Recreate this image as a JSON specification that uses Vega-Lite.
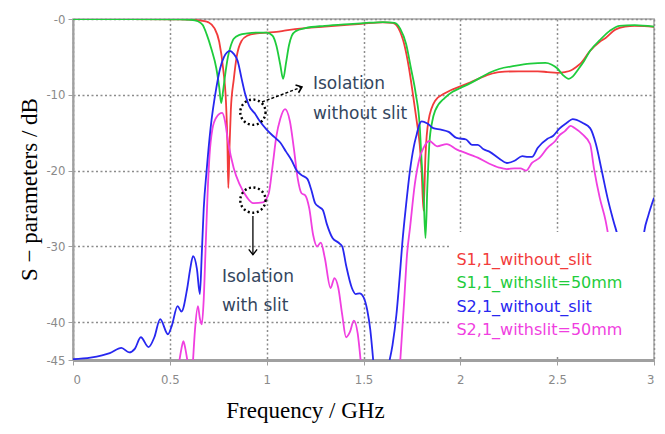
{
  "$schema": "https://vega.github.io/schema/vega-lite/v6.json",
  "width": 581,
  "height": 341,
  "autosize": {"type": "none"},
  "padding": {"left": 73, "top": 19, "right": 11, "bottom": 74},
  "background": "white",
  "config": {
    "view": {"stroke": "#a8a8a8", "strokeWidth": 1.5},
    "axis": {
      "gridColor": "#8c8c8c", "gridDash": [2, 2.5], "gridWidth": 1.5,
      "domainColor": "#a0a0a0", "tickColor": "#a0a0a0", "tickSize": 5,
      "labelColor": "#8a8a8a", "labelFont": "DejaVu Sans Condensed, DejaVu Sans", "labelFontSize": 13,
      "titleFont": "Liberation Serif", "titleFontWeight": "normal", "titleColor": "black", "titleFontSize": 23
    }
  },
  "datasets": {
    "curves": [
      {"s":"r","seg":"r1","f":0,"v":0},{"s":"r","seg":"r1","f":0.3,"v":0},{"s":"r","seg":"r1","f":0.55,"v":-0.05},{"s":"r","seg":"r1","f":0.62,"v":-0.1},{"s":"r","seg":"r1","f":0.67,"v":-0.25},{"s":"r","seg":"r1","f":0.7,"v":-0.45},{"s":"r","seg":"r1","f":0.73,"v":-1.2},{"s":"r","seg":"r1","f":0.755,"v":-3},{"s":"r","seg":"r1","f":0.775,"v":-6.5},{"s":"r","seg":"r1","f":0.79,"v":-11},{"s":"r","seg":"r1","f":0.797,"v":-16},{"s":"r","seg":"r1","f":0.802,"v":-22.3},{"s":"r","seg":"r1","f":0.808,"v":-17},{"s":"r","seg":"r1","f":0.815,"v":-12},{"s":"r","seg":"r1","f":0.83,"v":-8},{"s":"r","seg":"r1","f":0.845,"v":-5},{"s":"r","seg":"r1","f":0.87,"v":-2.9},{"s":"r","seg":"r1","f":0.9,"v":-2.2},{"s":"r","seg":"r1","f":0.95,"v":-1.9},{"s":"r","seg":"r1","f":1.0,"v":-1.8},{"s":"r","seg":"r1","f":1.05,"v":-1.7},{"s":"r","seg":"r1","f":1.1,"v":-1.5},{"s":"r","seg":"r1","f":1.2,"v":-1.2},{"s":"r","seg":"r1","f":1.3,"v":-1.0},{"s":"r","seg":"r1","f":1.4,"v":-0.8},{"s":"r","seg":"r1","f":1.5,"v":-0.6},{"s":"r","seg":"r1","f":1.6,"v":-0.45},{"s":"r","seg":"r1","f":1.65,"v":-0.5},{"s":"r","seg":"r1","f":1.68,"v":-1.2},{"s":"r","seg":"r1","f":1.71,"v":-3.3},{"s":"r","seg":"r1","f":1.735,"v":-6.5},{"s":"r","seg":"r1","f":1.755,"v":-9.9},{"s":"r","seg":"r1","f":1.775,"v":-13.5},{"s":"r","seg":"r1","f":1.79,"v":-16.5},{"s":"r","seg":"r1","f":1.8,"v":-20},{"s":"r","seg":"r1","f":1.81,"v":-25.3},{"s":"r","seg":"r1","f":1.82,"v":-18},{"s":"r","seg":"r1","f":1.835,"v":-13.5},{"s":"r","seg":"r1","f":1.87,"v":-10.8},{"s":"r","seg":"r1","f":1.92,"v":-9.8},{"s":"r","seg":"r1","f":1.95,"v":-9.4},{"s":"r","seg":"r1","f":2.0,"v":-8.9},{"s":"r","seg":"r1","f":2.05,"v":-8.4},{"s":"r","seg":"r1","f":2.1,"v":-7.8},{"s":"r","seg":"r1","f":2.15,"v":-7.3},{"s":"r","seg":"r1","f":2.2,"v":-7.0},{"s":"r","seg":"r1","f":2.3,"v":-6.9},{"s":"r","seg":"r1","f":2.4,"v":-6.9},{"s":"r","seg":"r1","f":2.45,"v":-7.0},{"s":"r","seg":"r1","f":2.5,"v":-7.1},{"s":"r","seg":"r1","f":2.54,"v":-7.0},{"s":"r","seg":"r1","f":2.57,"v":-6.8},{"s":"r","seg":"r1","f":2.6,"v":-6.3},{"s":"r","seg":"r1","f":2.62,"v":-5.9},{"s":"r","seg":"r1","f":2.67,"v":-4.2},{"s":"r","seg":"r1","f":2.72,"v":-3.0},{"s":"r","seg":"r1","f":2.75,"v":-2.5},{"s":"r","seg":"r1","f":2.8,"v":-1.4},{"s":"r","seg":"r1","f":2.85,"v":-1.0},{"s":"r","seg":"r1","f":2.9,"v":-0.9},{"s":"r","seg":"r1","f":2.95,"v":-0.95},{"s":"r","seg":"r1","f":3.0,"v":-1.05},

      {"s":"g","seg":"g1","f":0,"v":0},{"s":"g","seg":"g1","f":0.3,"v":0},{"s":"g","seg":"g1","f":0.55,"v":-0.05},{"s":"g","seg":"g1","f":0.61,"v":-0.1},{"s":"g","seg":"g1","f":0.645,"v":-0.3},{"s":"g","seg":"g1","f":0.67,"v":-0.8},{"s":"g","seg":"g1","f":0.69,"v":-2},{"s":"g","seg":"g1","f":0.715,"v":-4},{"s":"g","seg":"g1","f":0.74,"v":-6.5},{"s":"g","seg":"g1","f":0.755,"v":-9},{"s":"g","seg":"g1","f":0.765,"v":-11.1},{"s":"g","seg":"g1","f":0.775,"v":-9.5},{"s":"g","seg":"g1","f":0.785,"v":-7.5},{"s":"g","seg":"g1","f":0.8,"v":-5},{"s":"g","seg":"g1","f":0.815,"v":-3.5},{"s":"g","seg":"g1","f":0.83,"v":-2.6},{"s":"g","seg":"g1","f":0.86,"v":-2.1},{"s":"g","seg":"g1","f":0.9,"v":-1.9},{"s":"g","seg":"g1","f":0.95,"v":-1.8},{"s":"g","seg":"g1","f":1.0,"v":-1.8},{"s":"g","seg":"g1","f":1.03,"v":-2.2},{"s":"g","seg":"g1","f":1.05,"v":-3.5},{"s":"g","seg":"g1","f":1.07,"v":-6},{"s":"g","seg":"g1","f":1.085,"v":-7.9},{"s":"g","seg":"g1","f":1.1,"v":-5.8},{"s":"g","seg":"g1","f":1.115,"v":-3.5},{"s":"g","seg":"g1","f":1.13,"v":-2.2},{"s":"g","seg":"g1","f":1.15,"v":-1.6},{"s":"g","seg":"g1","f":1.2,"v":-1.2},{"s":"g","seg":"g1","f":1.3,"v":-0.9},{"s":"g","seg":"g1","f":1.4,"v":-0.7},{"s":"g","seg":"g1","f":1.5,"v":-0.55},{"s":"g","seg":"g1","f":1.6,"v":-0.4},{"s":"g","seg":"g1","f":1.66,"v":-0.5},{"s":"g","seg":"g1","f":1.69,"v":-1.3},{"s":"g","seg":"g1","f":1.72,"v":-3.3},{"s":"g","seg":"g1","f":1.745,"v":-6.5},{"s":"g","seg":"g1","f":1.77,"v":-9.9},{"s":"g","seg":"g1","f":1.79,"v":-14},{"s":"g","seg":"g1","f":1.8,"v":-18.7},{"s":"g","seg":"g1","f":1.81,"v":-23},{"s":"g","seg":"g1","f":1.82,"v":-28.9},{"s":"g","seg":"g1","f":1.83,"v":-22},{"s":"g","seg":"g1","f":1.84,"v":-16.5},{"s":"g","seg":"g1","f":1.855,"v":-13.5},{"s":"g","seg":"g1","f":1.87,"v":-12.1},{"s":"g","seg":"g1","f":1.92,"v":-10.4},{"s":"g","seg":"g1","f":1.96,"v":-9.6},{"s":"g","seg":"g1","f":2.0,"v":-9.1},{"s":"g","seg":"g1","f":2.05,"v":-8.5},{"s":"g","seg":"g1","f":2.1,"v":-7.8},{"s":"g","seg":"g1","f":2.15,"v":-7.1},{"s":"g","seg":"g1","f":2.2,"v":-6.6},{"s":"g","seg":"g1","f":2.28,"v":-6.2},{"s":"g","seg":"g1","f":2.36,"v":-5.9},{"s":"g","seg":"g1","f":2.44,"v":-5.8},{"s":"g","seg":"g1","f":2.47,"v":-6.0},{"s":"g","seg":"g1","f":2.5,"v":-6.5},{"s":"g","seg":"g1","f":2.53,"v":-7.4},{"s":"g","seg":"g1","f":2.56,"v":-7.9},{"s":"g","seg":"g1","f":2.58,"v":-7.6},{"s":"g","seg":"g1","f":2.61,"v":-6.6},{"s":"g","seg":"g1","f":2.64,"v":-5.5},{"s":"g","seg":"g1","f":2.67,"v":-4.2},{"s":"g","seg":"g1","f":2.72,"v":-2.8},{"s":"g","seg":"g1","f":2.77,"v":-1.6},{"s":"g","seg":"g1","f":2.82,"v":-0.9},{"s":"g","seg":"g1","f":2.9,"v":-0.8},{"s":"g","seg":"g1","f":3.0,"v":-1.0},

      {"s":"m","seg":"m1","f":0.55,"v":-45},{"s":"m","seg":"m1","f":0.56,"v":-43.5},{"s":"m","seg":"m1","f":0.57,"v":-42.5},{"s":"m","seg":"m1","f":0.58,"v":-43.5},{"s":"m","seg":"m1","f":0.59,"v":-45},
      {"s":"m","seg":"m2","f":0.62,"v":-45},{"s":"m","seg":"m2","f":0.63,"v":-41},{"s":"m","seg":"m2","f":0.645,"v":-37.9},{"s":"m","seg":"m2","f":0.655,"v":-39.5},{"s":"m","seg":"m2","f":0.665,"v":-40.3},{"s":"m","seg":"m2","f":0.675,"v":-37},{"s":"m","seg":"m2","f":0.685,"v":-30},{"s":"m","seg":"m2","f":0.695,"v":-23},{"s":"m","seg":"m2","f":0.705,"v":-18},{"s":"m","seg":"m2","f":0.72,"v":-14.5},{"s":"m","seg":"m2","f":0.74,"v":-13},{"s":"m","seg":"m2","f":0.77,"v":-12.4},{"s":"m","seg":"m2","f":0.785,"v":-13.5},{"s":"m","seg":"m2","f":0.8,"v":-16.1},{"s":"m","seg":"m2","f":0.83,"v":-19.7},{"s":"m","seg":"m2","f":0.86,"v":-21.8},{"s":"m","seg":"m2","f":0.9,"v":-23.6},{"s":"m","seg":"m2","f":0.93,"v":-24.3},{"s":"m","seg":"m2","f":0.98,"v":-24.2},{"s":"m","seg":"m2","f":1.01,"v":-23.1},{"s":"m","seg":"m2","f":1.03,"v":-19.5},{"s":"m","seg":"m2","f":1.05,"v":-15.5},{"s":"m","seg":"m2","f":1.07,"v":-13.2},{"s":"m","seg":"m2","f":1.095,"v":-11.9},{"s":"m","seg":"m2","f":1.12,"v":-13.5},{"s":"m","seg":"m2","f":1.14,"v":-17},{"s":"m","seg":"m2","f":1.16,"v":-21},{"s":"m","seg":"m2","f":1.18,"v":-23},{"s":"m","seg":"m2","f":1.2,"v":-23.3},{"s":"m","seg":"m2","f":1.22,"v":-25},{"s":"m","seg":"m2","f":1.24,"v":-28.5},{"s":"m","seg":"m2","f":1.26,"v":-30},{"s":"m","seg":"m2","f":1.28,"v":-29.5},{"s":"m","seg":"m2","f":1.3,"v":-31.5},{"s":"m","seg":"m2","f":1.33,"v":-35.5},{"s":"m","seg":"m2","f":1.35,"v":-34.2},{"s":"m","seg":"m2","f":1.37,"v":-35.5},{"s":"m","seg":"m2","f":1.39,"v":-39},{"s":"m","seg":"m2","f":1.41,"v":-42},{"s":"m","seg":"m2","f":1.43,"v":-41.3},{"s":"m","seg":"m2","f":1.45,"v":-39.8},{"s":"m","seg":"m2","f":1.47,"v":-41.5},{"s":"m","seg":"m2","f":1.485,"v":-45},
      {"s":"m","seg":"m3","f":1.69,"v":-45},{"s":"m","seg":"m3","f":1.71,"v":-37.2},{"s":"m","seg":"m3","f":1.725,"v":-31},{"s":"m","seg":"m3","f":1.74,"v":-27.6},{"s":"m","seg":"m3","f":1.765,"v":-21.8},{"s":"m","seg":"m3","f":1.79,"v":-18.3},{"s":"m","seg":"m3","f":1.81,"v":-17},{"s":"m","seg":"m3","f":1.84,"v":-16.1},{"s":"m","seg":"m3","f":1.88,"v":-16.8},{"s":"m","seg":"m3","f":1.93,"v":-16.5},{"s":"m","seg":"m3","f":1.98,"v":-17.2},{"s":"m","seg":"m3","f":2.03,"v":-17.7},{"s":"m","seg":"m3","f":2.06,"v":-18},{"s":"m","seg":"m3","f":2.09,"v":-18.3},{"s":"m","seg":"m3","f":2.15,"v":-19.1},{"s":"m","seg":"m3","f":2.2,"v":-19.6},{"s":"m","seg":"m3","f":2.24,"v":-19.8},{"s":"m","seg":"m3","f":2.28,"v":-19.7},{"s":"m","seg":"m3","f":2.31,"v":-19.7},{"s":"m","seg":"m3","f":2.34,"v":-20},{"s":"m","seg":"m3","f":2.37,"v":-19},{"s":"m","seg":"m3","f":2.41,"v":-18.3},{"s":"m","seg":"m3","f":2.45,"v":-17},{"s":"m","seg":"m3","f":2.49,"v":-16.1},{"s":"m","seg":"m3","f":2.51,"v":-15.4},{"s":"m","seg":"m3","f":2.54,"v":-14.8},{"s":"m","seg":"m3","f":2.57,"v":-14.1},{"s":"m","seg":"m3","f":2.59,"v":-14.4},{"s":"m","seg":"m3","f":2.63,"v":-15.2},{"s":"m","seg":"m3","f":2.67,"v":-16.5},{"s":"m","seg":"m3","f":2.69,"v":-19.7},{"s":"m","seg":"m3","f":2.72,"v":-23.6},{"s":"m","seg":"m3","f":2.75,"v":-26.6},{"s":"m","seg":"m3","f":2.77,"v":-29.5},{"s":"m","seg":"m3","f":2.79,"v":-33},

      {"s":"b","seg":"b1","f":0,"v":-44.9},{"s":"b","seg":"b1","f":0.09,"v":-44.7},{"s":"b","seg":"b1","f":0.15,"v":-44.4},{"s":"b","seg":"b1","f":0.19,"v":-44.1},{"s":"b","seg":"b1","f":0.25,"v":-43.4},{"s":"b","seg":"b1","f":0.29,"v":-44},{"s":"b","seg":"b1","f":0.32,"v":-43.5},{"s":"b","seg":"b1","f":0.35,"v":-42},{"s":"b","seg":"b1","f":0.39,"v":-43.3},{"s":"b","seg":"b1","f":0.42,"v":-42},{"s":"b","seg":"b1","f":0.45,"v":-39.6},{"s":"b","seg":"b1","f":0.49,"v":-41.6},{"s":"b","seg":"b1","f":0.51,"v":-40.5},{"s":"b","seg":"b1","f":0.54,"v":-37.9},{"s":"b","seg":"b1","f":0.56,"v":-38.6},{"s":"b","seg":"b1","f":0.59,"v":-35.5},{"s":"b","seg":"b1","f":0.605,"v":-33},{"s":"b","seg":"b1","f":0.62,"v":-31.3},{"s":"b","seg":"b1","f":0.64,"v":-33},{"s":"b","seg":"b1","f":0.655,"v":-36.3},{"s":"b","seg":"b1","f":0.665,"v":-31},{"s":"b","seg":"b1","f":0.675,"v":-25},{"s":"b","seg":"b1","f":0.69,"v":-20},{"s":"b","seg":"b1","f":0.71,"v":-14.5},{"s":"b","seg":"b1","f":0.74,"v":-9.1},{"s":"b","seg":"b1","f":0.76,"v":-6.5},{"s":"b","seg":"b1","f":0.78,"v":-5},{"s":"b","seg":"b1","f":0.81,"v":-4.2},{"s":"b","seg":"b1","f":0.83,"v":-4.6},{"s":"b","seg":"b1","f":0.85,"v":-5.5},{"s":"b","seg":"b1","f":0.87,"v":-7.8},{"s":"b","seg":"b1","f":0.89,"v":-10},{"s":"b","seg":"b1","f":0.91,"v":-11.5},{"s":"b","seg":"b1","f":0.94,"v":-12.5},{"s":"b","seg":"b1","f":0.965,"v":-13.5},{"s":"b","seg":"b1","f":1.0,"v":-14.6},{"s":"b","seg":"b1","f":1.04,"v":-15.6},{"s":"b","seg":"b1","f":1.07,"v":-16.3},{"s":"b","seg":"b1","f":1.1,"v":-17.5},{"s":"b","seg":"b1","f":1.13,"v":-18.7},{"s":"b","seg":"b1","f":1.155,"v":-20},{"s":"b","seg":"b1","f":1.18,"v":-20.6},{"s":"b","seg":"b1","f":1.21,"v":-21.1},{"s":"b","seg":"b1","f":1.23,"v":-22.5},{"s":"b","seg":"b1","f":1.25,"v":-24.3},{"s":"b","seg":"b1","f":1.27,"v":-24.8},{"s":"b","seg":"b1","f":1.29,"v":-25.2},{"s":"b","seg":"b1","f":1.31,"v":-27},{"s":"b","seg":"b1","f":1.34,"v":-28.9},{"s":"b","seg":"b1","f":1.37,"v":-29.5},{"s":"b","seg":"b1","f":1.39,"v":-30},{"s":"b","seg":"b1","f":1.41,"v":-32.5},{"s":"b","seg":"b1","f":1.44,"v":-35.5},{"s":"b","seg":"b1","f":1.46,"v":-36.3},{"s":"b","seg":"b1","f":1.48,"v":-36.2},{"s":"b","seg":"b1","f":1.5,"v":-36.7},{"s":"b","seg":"b1","f":1.52,"v":-38.5},{"s":"b","seg":"b1","f":1.535,"v":-41},{"s":"b","seg":"b1","f":1.55,"v":-45},
      {"s":"b","seg":"b2","f":1.635,"v":-45},{"s":"b","seg":"b2","f":1.65,"v":-43},{"s":"b","seg":"b2","f":1.67,"v":-39},{"s":"b","seg":"b2","f":1.69,"v":-33},{"s":"b","seg":"b2","f":1.7,"v":-29.7},{"s":"b","seg":"b2","f":1.72,"v":-24.5},{"s":"b","seg":"b2","f":1.74,"v":-20},{"s":"b","seg":"b2","f":1.76,"v":-16.8},{"s":"b","seg":"b2","f":1.775,"v":-15.2},{"s":"b","seg":"b2","f":1.79,"v":-13.8},{"s":"b","seg":"b2","f":1.8,"v":-13.5},{"s":"b","seg":"b2","f":1.83,"v":-13.8},{"s":"b","seg":"b2","f":1.86,"v":-14.4},{"s":"b","seg":"b2","f":1.9,"v":-14.6},{"s":"b","seg":"b2","f":1.94,"v":-14.9},{"s":"b","seg":"b2","f":1.98,"v":-15.7},{"s":"b","seg":"b2","f":2.03,"v":-15.9},{"s":"b","seg":"b2","f":2.06,"v":-16.6},{"s":"b","seg":"b2","f":2.09,"v":-16.6},{"s":"b","seg":"b2","f":2.12,"v":-17.2},{"s":"b","seg":"b2","f":2.15,"v":-17.5},{"s":"b","seg":"b2","f":2.2,"v":-18.4},{"s":"b","seg":"b2","f":2.24,"v":-19},{"s":"b","seg":"b2","f":2.28,"v":-18.7},{"s":"b","seg":"b2","f":2.32,"v":-18.1},{"s":"b","seg":"b2","f":2.35,"v":-18.2},{"s":"b","seg":"b2","f":2.37,"v":-18.2},{"s":"b","seg":"b2","f":2.4,"v":-17},{"s":"b","seg":"b2","f":2.45,"v":-15.8},{"s":"b","seg":"b2","f":2.48,"v":-15.4},{"s":"b","seg":"b2","f":2.51,"v":-14.5},{"s":"b","seg":"b2","f":2.55,"v":-13.7},{"s":"b","seg":"b2","f":2.58,"v":-13.2},{"s":"b","seg":"b2","f":2.6,"v":-13.3},{"s":"b","seg":"b2","f":2.63,"v":-13.7},{"s":"b","seg":"b2","f":2.67,"v":-14.4},{"s":"b","seg":"b2","f":2.7,"v":-16.5},{"s":"b","seg":"b2","f":2.73,"v":-20},{"s":"b","seg":"b2","f":2.76,"v":-23.6},{"s":"b","seg":"b2","f":2.79,"v":-26.6},{"s":"b","seg":"b2","f":2.82,"v":-29.5},{"s":"b","seg":"b2","f":2.84,"v":-33},
      {"s":"b","seg":"b3","f":2.93,"v":-33},{"s":"b","seg":"b3","f":2.95,"v":-28},{"s":"b","seg":"b3","f":2.97,"v":-26},{"s":"b","seg":"b3","f":3.0,"v":-23.6}
    ],
    "legendItems": [
      {"s":"r","t":"S1,1_without_slit","f":1.98,"v":-31.8},
      {"s":"g","t":"S1,1_withslit=50mm","f":1.98,"v":-34.8},
      {"s":"b","t":"S2,1_without_slit","f":1.98,"v":-38.0},
      {"s":"m","t":"S2,1_withslit=50mm","f":1.98,"v":-41.0}
    ],
    "notes": [
      {"t":"Isolation","f":1.239,"v":-8.6},
      {"t":"without slit","f":1.239,"v":-12.5},
      {"t":"Isolation","f":0.769,"v":-34.0},
      {"t":"with slit","f":0.769,"v":-37.9}
    ]
  },
  "layer": [
    {
      "data": {"name": "curves"},
      "mark": {"type": "line", "strokeWidth": 1.8, "interpolate": "monotone", "clip": true},
      "encoding": {
        "x": {"field": "f", "type": "quantitative", "scale": {"domain": [0, 3], "nice": false},
          "axis": {"values": [0, 0.5, 1, 1.5, 2, 2.5, 3], "format": "~g", "title": "Frequency / GHz",
            "domainWidth": 3, "labelPadding": 8, "titleX": 232, "titleY": 50, "titleAlign": "center", "titleBaseline": "middle", "titleAnchor": null}},
        "y": {"field": "v", "type": "quantitative", "scale": {"domain": [-45, 0], "nice": false, "zero": false},
          "axis": {"values": [0, -10, -20, -30, -40, -45], "labelExpr": "'-' + abs(datum.value)", "title": "S − parameters / dB",
            "domainWidth": 2, "labelPadding": 3, "titleX": -44, "titleY": 170, "titleAngle": 270, "titleAlign": "center", "titleBaseline": "middle"}},
        "color": {"field": "s", "type": "nominal",
          "scale": {"domain": ["r", "g", "b", "m"], "range": ["#f23b3b", "#1fcc3c", "#2727f0", "#f03fe0"]}, "legend": null},
        "detail": {"field": "seg"}
      }
    },
    {
      "data": {"values": [{"f": 1.95, "f2": 2.99, "v": -28.1, "v2": -44.5}]},
      "mark": {"type": "rect", "fill": "white"},
      "encoding": {
        "x": {"field": "f", "type": "quantitative"}, "x2": {"field": "f2"},
        "y": {"field": "v", "type": "quantitative"}, "y2": {"field": "v2"}
      }
    },
    {
      "data": {"name": "legendItems"},
      "mark": {"type": "text", "align": "left", "baseline": "middle", "font": "DejaVu Sans", "fontSize": 16},
      "encoding": {
        "x": {"field": "f", "type": "quantitative"},
        "y": {"field": "v", "type": "quantitative"},
        "text": {"field": "t"},
        "color": {"field": "s", "type": "nominal", "legend": null}
      }
    },
    {
      "data": {"name": "notes"},
      "mark": {"type": "text", "align": "left", "baseline": "middle", "font": "DejaVu Sans", "fontSize": 17, "color": "#34465e"},
      "encoding": {
        "x": {"field": "f", "type": "quantitative"},
        "y": {"field": "v", "type": "quantitative"},
        "text": {"field": "t"}
      }
    },
    {
      "data": {"values": [{"f": 0.929, "v": -12.3}, {"f": 0.929, "v": -23.9}]},
      "mark": {"type": "point", "shape": "circle", "filled": false, "size": 640, "stroke": "black", "strokeWidth": 2.4, "strokeDash": [2, 2.6], "opacity": 1},
      "encoding": {
        "x": {"field": "f", "type": "quantitative"},
        "y": {"field": "v", "type": "quantitative"}
      }
    },
    {
      "data": {"values": [{"f": 0.976, "v": -10.95, "f2": 1.182, "v2": -8.97}]},
      "mark": {"type": "rule", "stroke": "black", "strokeWidth": 1.5, "strokeDash": [3, 2]},
      "encoding": {
        "x": {"field": "f", "type": "quantitative"}, "x2": {"field": "f2"},
        "y": {"field": "v", "type": "quantitative"}, "y2": {"field": "v2"}
      }
    },
    {
      "data": {"values": [{"f": 0.929, "v": -26.0, "f2": 0.929, "v2": -31.1}]},
      "mark": {"type": "rule", "stroke": "black", "strokeWidth": 1.3},
      "encoding": {
        "x": {"field": "f", "type": "quantitative"}, "x2": {"field": "f2"},
        "y": {"field": "v", "type": "quantitative"}, "y2": {"field": "v2"}
      }
    },
    {
      "data": {"values": [{"f": 1.182, "v": -8.97}]},
      "mark": {"type": "point", "shape": "M-1,-0.8L0,0L-1,0.8", "filled": false, "size": 110, "stroke": "black", "strokeWidth": 1.6, "angle": 339, "opacity": 1},
      "encoding": {
        "x": {"field": "f", "type": "quantitative"},
        "y": {"field": "v", "type": "quantitative"}
      }
    },
    {
      "data": {"values": [{"f": 0.929, "v": -31.1}]},
      "mark": {"type": "point", "shape": "M-1,-0.8L0,0L-1,0.8", "filled": false, "size": 110, "stroke": "black", "strokeWidth": 1.4, "angle": 90, "opacity": 1},
      "encoding": {
        "x": {"field": "f", "type": "quantitative"},
        "y": {"field": "v", "type": "quantitative"}
      }
    }
  ]
}
